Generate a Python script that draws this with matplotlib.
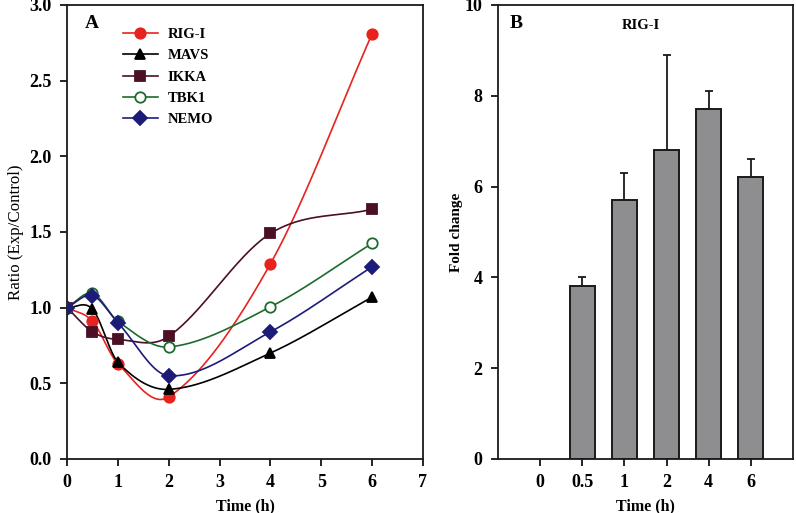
import numpy as np
import matplotlib
matplotlib.use("Agg")
import matplotlib.pyplot as plt

plt.rcParams['font.family'] = ['Liberation Serif', 'DejaVu Serif']
plt.rcParams['font.weight'] = 'bold'

# Panel A: ratio of expression over time
time_a = [0, 0.5, 1, 2, 4, 6]
rig_i = [1.0, 0.91, 0.63, 0.41, 1.29, 2.81]
mavs = [1.0, 0.99, 0.64, 0.46, 0.70, 1.07]
ikka = [1.0, 0.84, 0.79, 0.81, 1.49, 1.65]
tbk1 = [1.0, 1.095, 0.91, 0.74, 1.005, 1.425]
nemo = [1.0, 1.08, 0.90, 0.55, 0.84, 1.27]

# Panel B: RIG-I fold change
time_b = ['0', '0.5', '1', '2', '4', '6']
fold = [0, 3.8, 5.7, 6.8, 7.7, 6.2]
fold_err = [0, 0.2, 0.6, 2.1, 0.4, 0.4]


def smooth_line(x, y, n=60):
    # cardinal (catmull-rom) curve through the points
    x = np.asarray(x, float)
    y = np.asarray(y, float)
    k = len(x)
    d = np.zeros(k)
    d[0] = (y[1] - y[0]) / (x[1] - x[0])
    d[-1] = (y[-1] - y[-2]) / (x[-1] - x[-2])
    for i in range(1, k - 1):
        d[i] = (y[i + 1] - y[i - 1]) / (x[i + 1] - x[i - 1])
    xs_all, ys_all = [], []
    for i in range(k - 1):
        h = x[i + 1] - x[i]
        t = np.linspace(0, 1, n)
        h00 = 2 * t ** 3 - 3 * t ** 2 + 1
        h10 = t ** 3 - 2 * t ** 2 + t
        h01 = -2 * t ** 3 + 3 * t ** 2
        h11 = t ** 3 - t ** 2
        xs_all.append(x[i] + t * h)
        ys_all.append(h00 * y[i] + h10 * h * d[i] + h01 * y[i + 1] + h11 * h * d[i + 1])
    return np.concatenate(xs_all), np.concatenate(ys_all)


fig = plt.figure(figsize=(7.96, 5.13), dpi=100)
axA = fig.add_axes([0.0842, 0.1053, 0.4472, 0.885])
axB = fig.add_axes([0.6256, 0.1053, 0.3706, 0.885])

series = [
    ('RIG-I', rig_i, '#e8221e', 'o', '#e8221e', 7.5),
    ('MAVS', mavs, '#000000', '^', '#000000', 7.5),
    ('IKKA', ikka, '#4b0f26', 's', '#4b0f26', 7),
    ('TBK1', tbk1, '#1d6b2c', 'o', 'white', 7.5),
    ('NEMO', nemo, '#1c1c78', 'D', '#1c1c78', 7),
]
for name, vals, col, mk, fc, ms in series:
    xs, ys = smooth_line(time_a, vals)
    axA.plot(xs, ys, color=col, lw=1.2)
    axA.plot(time_a, vals, ls='none', marker=mk, ms=ms, mfc=fc, mec=col,
             mew=1.3, zorder=3)
    axA.plot([], [], color=col, lw=1.2, marker=mk, ms=ms, mfc=fc, mec=col,
             mew=1.3, label=name)

axA.set_xlim(0, 7)
axA.set_ylim(0, 3.0)
axA.set_xticks(range(8))
yt = np.arange(0, 3.01, 0.5)
axA.set_yticks(yt)
axA.set_yticklabels([f'{v:.1f}' for v in yt])
axA.set_xlabel('Time (h)', fontsize=11.5, fontweight='bold', labelpad=5)
axA.set_ylabel('Ratio (Exp/Control)', fontsize=12.2, fontweight='normal',
               labelpad=4)
axA.text(0.05, 0.978, 'A', transform=axA.transAxes, fontsize=14,
         fontweight='bold', va='top', ha='left')
axA.legend(loc='upper left', bbox_to_anchor=(0.14, 0.962), frameon=False,
           fontsize=10.5, handlelength=2.4, handletextpad=0.7,
           labelspacing=0.55, borderaxespad=0)

idx = np.arange(len(time_b))
axB.bar(idx[1:], fold[1:], width=0.6, color='#8e8e90',
        edgecolor='#1a1a1a', linewidth=1.4, zorder=2)
axB.errorbar(idx[1:], fold[1:],
             yerr=[np.zeros(len(fold) - 1), fold_err[1:]],
             fmt='none', ecolor='#1a1a1a', elinewidth=1.3, capsize=3,
             capthick=1.3, zorder=1)
axB.set_xlim(-1, 6)
axB.set_ylim(0, 10)
axB.set_xticks(idx)
axB.set_xticklabels(time_b)
axB.set_yticks(range(0, 11, 2))
axB.set_xlabel('Time (h)', fontsize=11.5, fontweight='bold', labelpad=5)
axB.set_ylabel('Fold change', fontsize=11, fontweight='bold', labelpad=1)
axB.text(0.04, 0.978, 'B', transform=axB.transAxes, fontsize=14,
         fontweight='bold', va='top', ha='left')
axB.text(0.485, 0.97, 'RIG-I', transform=axB.transAxes, fontsize=10.5,
         fontweight='bold', va='top', ha='center')

for ax in (axA, axB):
    for s in ax.spines.values():
        s.set_linewidth(1.3)
        s.set_color('#1a1a1a')
    ax.tick_params(direction='out', length=5, width=1.2, labelsize=13,
                   pad=6)

fig.savefig('out.png', dpi=100)
